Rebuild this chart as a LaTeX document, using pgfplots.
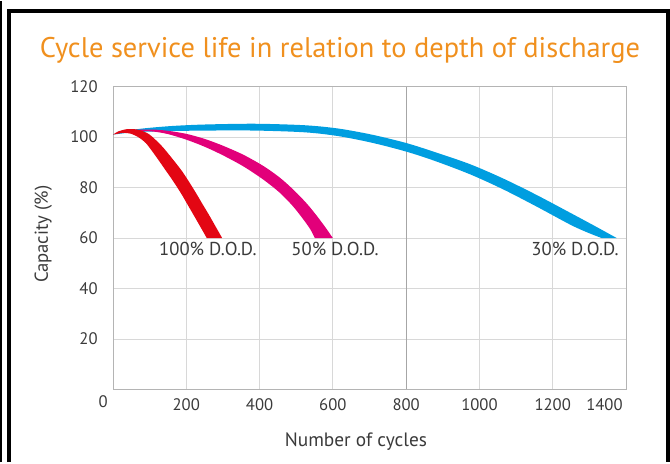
\documentclass[border=0pt]{standalone}
\usepackage{pgfplots}
\pgfplotsset{compat=1.18}
\usepgfplotslibrary{fillbetween}
\usepackage{fontspec}
\setmainfont{PT Sans}
\definecolor{ttl}{HTML}{F0901E}
\definecolor{txt}{HTML}{3A3A3A}
\definecolor{cred}{HTML}{E30613}
\definecolor{cmag}{HTML}{E2007A}
\definecolor{cblue}{HTML}{009EE0}
\definecolor{grd}{HTML}{D8D8D8}
\definecolor{axc}{HTML}{B4B4B4}
\begin{document}
\begin{tikzpicture}
\path (0pt,0pt) rectangle (502.5pt,345.75pt);
\draw[black, line width=1.7pt] (0.86pt,0pt) -- (0.86pt,345.75pt);
\draw[black, line width=2.7pt] (6.75pt,0pt) -- (6.75pt,338.4pt) -- (501pt,338.4pt) -- (501pt,0pt);
\node[anchor=base, text=ttl, font=\fontsize{21.3}{24}\selectfont] at (255pt,303.75pt) {Cycle service life in relation to depth of discharge};
\begin{axis}[
  at={(84.75pt,54.375pt)}, anchor=south west,
  scale only axis, width=384.75pt, height=227.25pt,
  xmin=0, xmax=1400, ymin=0, ymax=120,
  xtick={200,400,...,1200},
  extra x ticks={800},
  extra x tick labels={},
  extra x tick style={major grid style={draw=gray!70, line width=0.75pt}},
  ytick={20,40,...,120},
  grid=major,
  major grid style={draw=grd, line width=0.75pt},
  axis line style={draw=axc, line width=0.75pt},
  tick style={draw=none},
  ticklabel style={font=\fontsize{12.5}{14}\selectfont, text=txt},
  /pgf/number format/assume math mode=true,
  /pgf/number format/1000 sep={},
  xticklabel style={yshift=-3pt},
  yticklabel style={xshift=-8pt},
  clip=false,
]
% 30% DOD band
\addplot[name path=bu, draw=none, smooth] coordinates {
(0,101)(40,102.5)(80,103.4)(160,104.4)(251,105)(388,105.3)(524,104.7)(615,103.4)(706,101)(797,97.8)(874,94.3)(974,89.3)(1065,83.6)(1156,77.1)(1247,70.1)(1320,64.4)(1375,60)
};
\addplot[name path=bl, draw=none, smooth] coordinates {
(0,101)(40,101.7)(80,102.1)(160,102.4)(251,102.6)(388,102.6)(524,101.9)(615,100.4)(706,97.8)(797,94.4)(874,90.8)(974,85.3)(1065,79.3)(1156,72.5)(1247,65.4)(1292,62.4)(1334,60)
};
\addplot[fill=cblue, draw=none] fill between[of=bu and bl];
% 50% DOD band
\addplot[name path=mu, draw=none, smooth] coordinates {
(30,102.3)(70,102.9)(110,103)(150,102.5)(200,101.3)(250,99.3)(300,96.6)(356,93)(410,88.6)(455,84)(495,78.8)(530,73.5)(558,68.5)(582,63.8)(600,60)
};
\addplot[name path=ml, draw=none, smooth] coordinates {
(30,102.3)(70,102.5)(110,102.2)(150,101.2)(200,99)(250,96.2)(300,92.8)(356,88.4)(410,83.2)(455,78)(490,72.8)(518,67.7)(538,63.6)(551,60)
};
\addplot[fill=cmag, draw=none] fill between[of=mu and ml];
% 100% DOD band
\addplot[name path=ru, draw=none, smooth] coordinates {
(0,101)(15,102.3)(35,103.1)(55,103.2)(75,102.7)(100,101)(133,96.5)(160,91.8)(187,86.8)(208,82.2)(228,77.5)(245,73.3)(262,69.2)(280,64.6)(298,60)
};
\addplot[name path=rl, draw=none, smooth] coordinates {
(0,101)(15,101.4)(30,101.7)(50,101.3)(70,99.9)(90,97.6)(115,92.8)(142,87.2)(165,82.4)(187,77.4)(203,73.4)(219,69.4)(238,64.6)(256,60)
};
\addplot[fill=cred, draw=none] fill between[of=ru and rl];
\node[font=\fontsize{14}{16}\selectfont, text=txt] at (axis cs:259,55.6) {100\% D.O.D.};
\node[font=\fontsize{14}{16}\selectfont, text=txt] at (axis cs:606,55.6) {50\% D.O.D.};
\node[font=\fontsize{14}{16}\selectfont, text=txt] at (axis cs:1261,55.6) {30\% D.O.D.};
\node[font=\fontsize{12.5}{14}\selectfont, text=txt] at (axis cs:-27,-4.6) {0};
\node[font=\fontsize{12.5}{14}\selectfont, text=txt, anchor=north east, yshift=-3pt, xshift=1pt] at (axis cs:1400,0) {1400};
\node[font=\fontsize{14.5}{16}\selectfont, text=txt] at (axis cs:663,-20.4) {Number of cycles};
\node[font=\fontsize{14}{16}\selectfont, text=txt, rotate=90] at (axis cs:-190,61.5) {Capacity (\%)};
\end{axis}
\end{tikzpicture}
\end{document}
